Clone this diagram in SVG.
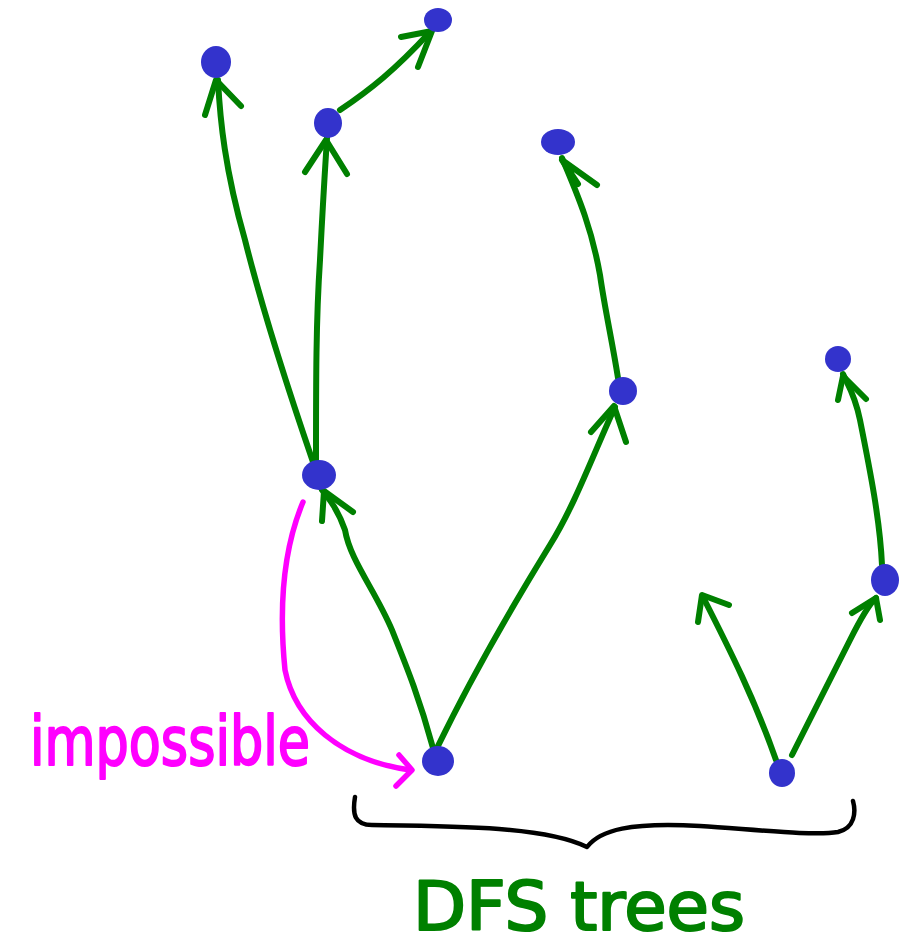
<svg xmlns="http://www.w3.org/2000/svg" width="901" height="945" viewBox="0 0 901 945">
<style>
.e{fill:none;stroke:#008000;stroke-width:6;stroke-linecap:round;stroke-linejoin:round}
.m{fill:none;stroke:#ff00ff;stroke-width:5.5;stroke-linecap:round;stroke-linejoin:round}
.b{fill:none;stroke:#000;stroke-width:4.5;stroke-linecap:round;stroke-linejoin:round}
.n{fill:#3333cc}
.t{font-family:"DejaVu Sans","Liberation Sans",sans-serif;stroke-width:2.2;stroke-linejoin:round}
</style>
<rect width="901" height="945" fill="#fff"/>
<g id="connectors">
<path class="e" d="M313,462 C290,395 265,320 245,240 C225,170 220,120 218,80"/>
<path class="e" d="M205,115 L216,80 L241,106"/>
<path class="e" d="M316,462 C316,380 316,320 320,260 C323,200 325,170 327,138"/>
<path class="e" d="M305,172 L326,140 L347,174"/>
<path class="e" d="M340,110 C370,90 395,70 430,32"/>
<path class="e" d="M401,37 L432,31 L418,67"/>
<path class="e" d="M618,378 C612,340 605,310 600,275 C592,230 580,200 562,158"/>
<path class="e" d="M578,184 L562,160 L597,185"/>
<path class="e" d="M433,748 C420,700 408,670 392,630 C375,590 350,560 345,530 C338,510 330,500 322,490"/>
<path class="e" d="M322,521 L324,491 L353,512"/>
<path class="e" d="M437,748 C470,680 510,610 550,545 C575,505 595,450 615,407"/>
<path class="e" d="M591,432 L614,406 L626,442"/>
<path class="e" d="M776,760 C755,700 730,650 703,597"/>
<path class="e" d="M698,622 L702,595 L729,605"/>
<path class="e" d="M792,755 C815,710 835,670 850,640 C860,620 868,605 876,598"/>
<path class="e" d="M852,613 L876,598 L880,620"/>
<path class="e" d="M882,565 C880,520 870,470 860,420 C855,395 848,385 843,374"/>
<path class="e" d="M838,400 L843,376 L866,399"/>
<path class="m" d="M303,502 C285,545 278,600 285,670 C295,720 340,760 410,770"/>
<path class="m" d="M399,755 L412,770 L396,786"/>
</g>
<g id="A"><ellipse class="n" cx="216" cy="62" rx="15" ry="16"/></g>
<g id="B"><ellipse class="n" cx="438" cy="20" rx="14" ry="12"/></g>
<g id="C"><ellipse class="n" cx="328" cy="123" rx="14" ry="15"/></g>
<g id="D"><ellipse class="n" cx="558" cy="142" rx="17" ry="13"/></g>
<g id="E"><ellipse class="n" cx="623" cy="391" rx="14" ry="14"/></g>
<g id="F"><ellipse class="n" cx="319" cy="475" rx="17" ry="15"/></g>
<g id="G"><ellipse class="n" cx="438" cy="761" rx="16" ry="15"/></g>
<g id="H"><ellipse class="n" cx="838" cy="359" rx="13" ry="13"/></g>
<g id="I"><ellipse class="n" cx="885" cy="580" rx="14" ry="16"/></g>
<g id="J"><ellipse class="n" cx="782" cy="773" rx="13" ry="14"/></g>
<g id="brace"><path class="b" d="M355,797 C352,815 355,825 372,825 C450,826 545,826 587,847 C600,830 630,822 700,826 C760,830 815,836 838,832 C855,828 856,812 853,801"/></g>
<g id="label-impossible"><text class="t" x="30" y="765" font-size="68" fill="#ff00ff" stroke="#ff00ff" textLength="280" lengthAdjust="spacingAndGlyphs">impossible</text></g>
<g id="label-dfs"><text class="t" x="413" y="930" font-size="68" fill="#008000" stroke="#008000" textLength="332" lengthAdjust="spacingAndGlyphs">DFS trees</text></g>
</svg>
